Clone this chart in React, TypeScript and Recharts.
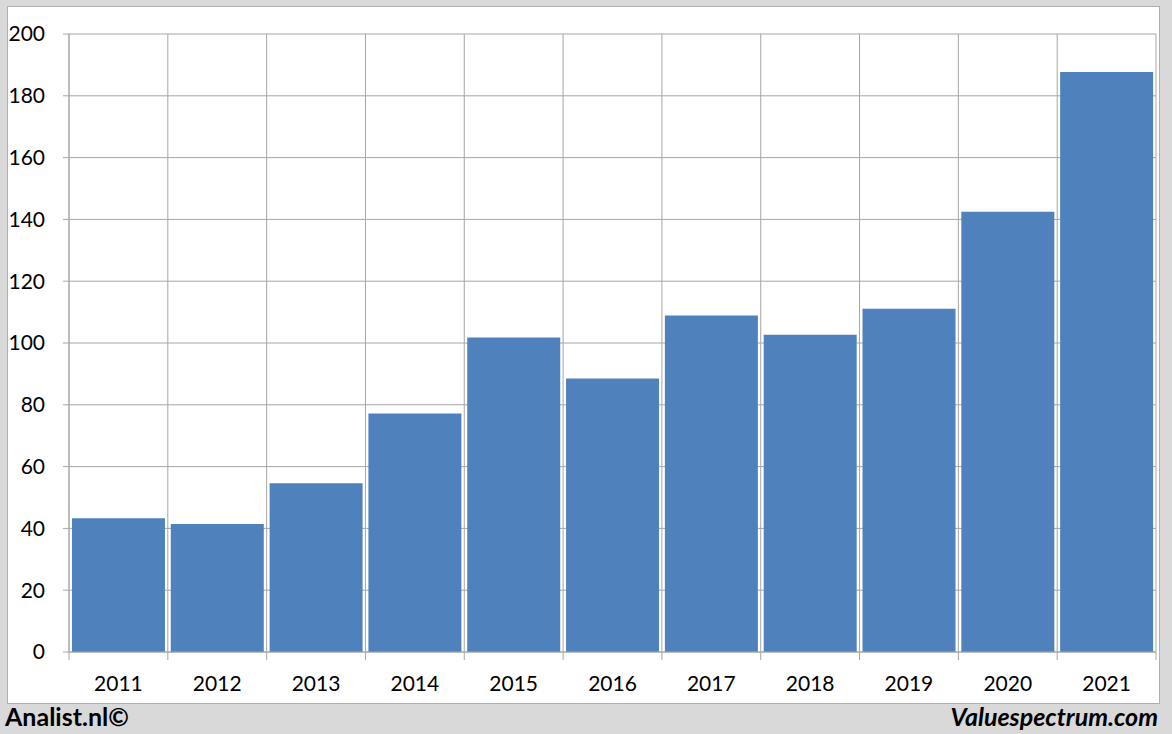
import React from "react";
import { BarChart, Bar, XAxis, YAxis, CartesianGrid } from "recharts";

const years = ["2011", "2012", "2013", "2014", "2015", "2016", "2017", "2018", "2019", "2020", "2021"];
const values = [43.3, 41.4, 54.6, 77.2, 101.8, 88.5, 108.9, 102.7, 111.1, 142.5, 187.7];
const yTicks = [0, 20, 40, 60, 80, 100, 120, 140, 160, 180, 200];

const data = years.map((year, i) => ({ year, value: values[i] }));

const FONT = "Lato, 'Open Sans', sans-serif";
const GRID = "#a6a6a6";

const XTick = (props: any) => {
  const { x, y, payload, index, width, visibleTicksCount } = props;
  const n = visibleTicksCount || years.length;
  const band = width / n;
  const left = x - band / 2;
  return (
    <g>
      <line x1={left} x2={left} y1={y} y2={y + 8} stroke={GRID} />
      {index === n - 1 && <line x1={left + band} x2={left + band} y1={y} y2={y + 8} stroke={GRID} />}
      <text x={x} y={y + 39} textAnchor="middle" fontSize={21} fontFamily={FONT} fill="#000">
        {payload.value}
      </text>
    </g>
  );
};

export default function App() {
  return (
    <div style={{ position: "absolute", left: 0, top: 0, width: 1172, height: 734, background: "#d9d9d9" }}>
      <div
        style={{
          position: "absolute",
          left: 7,
          top: 6,
          width: 1151,
          height: 696,
          background: "#fff",
          border: "1px solid #b0b0b0",
        }}
      />
      <div style={{ position: "absolute", left: 0, top: 0 }}>
        <BarChart
          width={1172}
          height={734}
          data={data}
          margin={{ top: 34, right: 16, bottom: 32, left: 9 }}
          barCategoryGap="3%"
        >
          <CartesianGrid
            stroke={GRID}
            strokeWidth={1}
            verticalCoordinatesGenerator={({ offset }: any) =>
              years.map((_, i) => offset.left + (i * offset.width) / years.length).concat(offset.left + offset.width)
            }
          />
          <XAxis
            dataKey="year"
            height={50}
            tickSize={0}
            tickMargin={0}
            axisLine={{ stroke: GRID }}
            tick={<XTick width={1087} />}
            interval={0}
          />
          <YAxis
            width={60}
            domain={[0, 200]}
            ticks={yTicks}
            interval={0}
            tickSize={6}
            tickMargin={18}
            axisLine={{ stroke: GRID }}
            tickLine={{ stroke: GRID }}
            tick={{ fontSize: 21, fontFamily: FONT, fill: "#000" }}
          />
          <Bar dataKey="value" fill="#4f81bd" isAnimationActive={false} />
        </BarChart>
      </div>
      <div
        style={{
          position: "absolute",
          left: 5,
          top: 701,
          fontFamily: FONT,
          fontWeight: 700,
          fontSize: 25,
          color: "#000",
        }}
      >
        Analist.nl©
      </div>
      <div
        style={{
          position: "absolute",
          right: 14,
          top: 701,
          fontFamily: FONT,
          fontWeight: 700,
          fontStyle: "italic",
          fontSize: 25,
          color: "#000",
        }}
      >
        Valuespectrum.com
      </div>
    </div>
  );
}
